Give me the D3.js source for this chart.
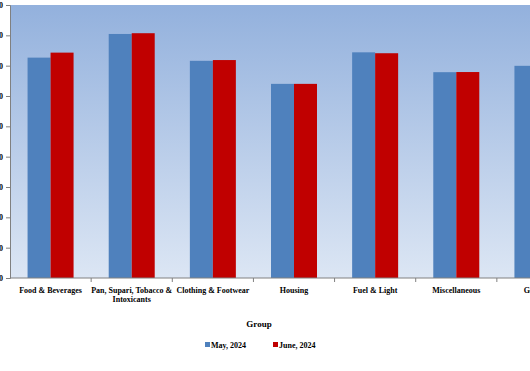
<!DOCTYPE html>
<html>
<head>
<meta charset="utf-8">
<script src="https://cdn.jsdelivr.net/npm/d3@7"></script>
<style>
  body { margin: 0; background: #fff; }
  text { font-family: "Liberation Serif", "Times New Roman", serif; font-weight: bold; fill: #000; }
</style>
</head>
<body>
<div id="chart"></div>
<script>
// group-wise indices
const groups = ["Food & Beverages", "Pan, Supari, Tobacco & Intoxicants", "Clothing & Footwear",
    "Housing", "Fuel & Light", "Miscellaneous", "General"];
const seriesNames = ["May, 2024", "June, 2024"];
const mayValues = [145.3, 160.9, 143.2, 128.0, 148.8, 135.7, 139.9];
const juneValues = [148.6, 161.4, 143.7, 128.0, 148.2, 135.8, 141.4];
const yTicks = [0, 20, 40, 60, 80, 100, 120, 140, 160, 180];
const colors = ["#4f81bd", "#c00000"];

const W = 530, H = 371;
const margin = {top: 5, left: 10};
const plotW = 568, plotH = 273;

let svg = d3.select("#chart").append("svg")
    .attr("width", W)
    .attr("height", H);

let defs = svg.append("defs");
let grad = defs.append("linearGradient")
    .attr("id", "bg")
    .attr("x1", 0).attr("y1", 0).attr("x2", 0).attr("y2", 1);
grad.append("stop").attr("offset", "0%").attr("stop-color", "#93b1dd");
grad.append("stop").attr("offset", "100%").attr("stop-color", "#dce6f4");

let g = svg.append("g")
    .attr("transform", `translate(${margin.left},${margin.top})`);

g.append("rect")
    .attr("width", plotW)
    .attr("height", plotH)
    .attr("fill", "url(#bg)");

let x = d3.scaleBand()
    .domain(groups)
    .range([0, plotW])
    .paddingInner(0);

let x1 = d3.scaleBand()
    .domain(seriesNames)
    .range([0, x.bandwidth()])
    .paddingInner(0)
    .paddingOuter(0.764);

let y = d3.scaleLinear()
    .domain([0, 180])
    .range([plotH, 0]);

let data = groups.map((grp, i) => ({grp, vals: [mayValues[i], juneValues[i]]}));

let grpG = g.selectAll(".grp")
    .data(data)
    .enter().append("g")
    .attr("class", "grp")
    .attr("transform", d => `translate(${x(d.grp)},0)`);

grpG.selectAll("rect")
    .data(d => d.vals.map((v, j) => ({s: seriesNames[j], v, j})))
    .enter().append("rect")
    .attr("x", d => x1(d.s))
    .attr("y", d => y(d.v))
    .attr("width", x1.bandwidth())
    .attr("height", d => plotH - y(d.v))
    .attr("fill", d => colors[d.j]);

// y axis (labels run off the left edge, as in the source image)
let yAxis = d3.axisLeft(y).tickValues(yTicks).tickSize(4).tickPadding(3);
let yG = g.append("g").call(yAxis);
yG.select(".domain").attr("stroke", "#808080");
yG.selectAll("line").attr("stroke", "#808080");
yG.selectAll("text").style("font-size", "8px");

// x axis line with boundary ticks
let xG = g.append("g").attr("transform", `translate(0,${plotH})`);
xG.append("line").attr("x1", 0).attr("x2", plotW).attr("stroke", "#808080");
xG.selectAll(".bt")
    .data(groups)
    .enter().append("line")
    .attr("x1", d => x(d) + x.bandwidth())
    .attr("x2", d => x(d) + x.bandwidth())
    .attr("y1", 0).attr("y2", 4)
    .attr("stroke", "#808080");

let labels = xG.selectAll(".lab")
    .data(groups)
    .enter().append("text")
    .attr("x", d => x(d) + x.bandwidth() / 2)
    .attr("y", 15)
    .attr("text-anchor", "middle")
    .style("font-size", "8px");

labels.each(function(d) {
    let el = d3.select(this);
    let words = d.split(" ");
    let lines = [], line = [];
    words.forEach(w => {
        let test = line.concat(w).join(" ");
        if (test.length > 22 && line.length) { lines.push(line.join(" ")); line = [w]; }
        else line.push(w);
    });
    lines.push(line.join(" "));
    lines.forEach((l, i) => {
        el.append("tspan").attr("x", x(d) + x.bandwidth() / 2).attr("dy", i ? 9 : 0).text(l);
    });
});

// axis title
svg.append("text")
    .attr("x", 259)
    .attr("y", 327)
    .attr("text-anchor", "middle")
    .style("font-size", "9px")
    .text("Group");

// legend
let legend = svg.append("g");
let legX = [205, 273];
seriesNames.forEach((s, i) => {
    legend.append("rect")
        .attr("x", legX[i]).attr("y", 342)
        .attr("width", 5).attr("height", 5)
        .attr("fill", colors[i]);
    legend.append("text")
        .attr("x", legX[i] + 6).attr("y", 348)
        .style("font-size", "8px")
        .text(s);
});
</script>
</body>
</html>
